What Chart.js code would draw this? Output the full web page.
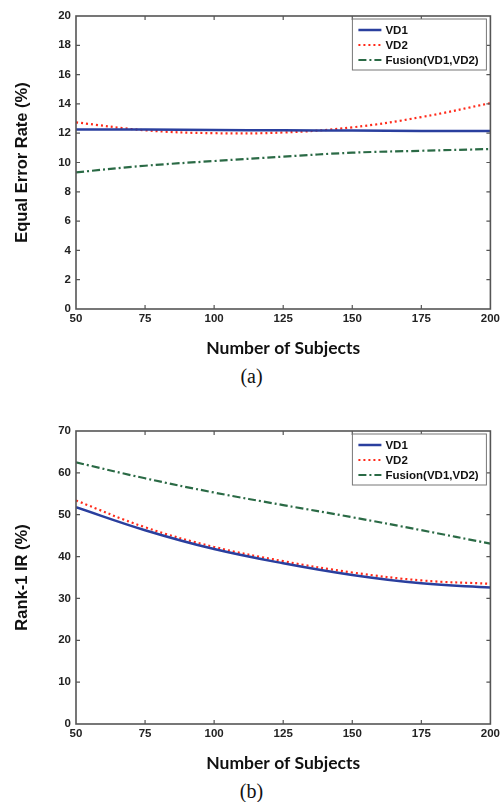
<!DOCTYPE html>
<html>
<head>
<meta charset="utf-8">
<script src="https://cdn.jsdelivr.net/npm/chart.js@4.4.1/dist/chart.umd.min.js"></script>
<style>
  body { margin: 0; background: #fff; width: 503px; height: 802px; position: relative; overflow: hidden; }
  canvas { position: absolute; left: 0; }
  .cap { position: absolute; left: 0; width: 503px; text-align: center; font: 20px "Liberation Serif", serif; color: #111; }
</style>
</head>
<body>
<canvas id="chartA" width="503" height="365" style="top:0"></canvas>
<div class="cap" style="top:365px">(a)</div>
<canvas id="chartB" width="503" height="375" style="top:400px"></canvas>
<div class="cap" style="top:780px">(b)</div>
<script>
// ── Données ────────────────────────────────────────────────
const subjects = [50, 75, 100, 125, 150, 175, 200];
const xTicks   = [50, 75, 100, 125, 150, 175, 200];

// (a) Equal Error Rate (%)
const eerVD1    = [12.25, 12.25, 12.22, 12.2, 12.18, 12.15, 12.15];
const eerVD2    = [12.74, 12.2, 12.0, 12.05, 12.4, 13.1, 14.05];
const eerFusion = [9.33, 9.78, 10.1, 10.4, 10.67, 10.8, 10.92];

// (b) Rank-1 IR (%)
const irVD1    = [51.8, 46.3, 41.8, 38.4, 35.6, 33.6, 32.6];
const irVD2    = [53.4, 47.0, 42.3, 38.9, 36.2, 34.3, 33.5];
const irFusion = [62.5, 58.7, 55.3, 52.3, 49.4, 46.3, 43.1];

const seriesNames = ['VD1', 'VD2', 'Fusion(VD1,VD2)'];

/* ── Styles ─────────────────────────────────────────────── */
const styles = [
  { color: '#2a3f9e', width: 2.5, dash: [] },
  { color: '#ff2a1a', width: 2.2, dash: [2, 3] },
  { color: '#2a6a45', width: 2.2, dash: [8, 3, 2, 3] }
];
const tickFont = { family: '"Liberation Sans", Arial, sans-serif', size: 11.5, weight: 'bold' };

const pts = (xs, ys) => xs.map((x, i) => ({ x, y: ys[i] }));

/* ── Cadre + graduations intérieures (style MATLAB) ─────── */
const cadrePlugin = {
  id: 'cadre',
  afterDraw(chart) {
    const { ctx, chartArea: a, scales } = chart;
    ctx.save();
    ctx.strokeStyle = '#555';
    ctx.lineWidth = 1.6;
    ctx.strokeRect(a.left, a.top, a.right - a.left, a.bottom - a.top);
    ctx.lineWidth = 1.2;
    ctx.beginPath();
    scales.x.ticks.forEach(t => {
      const px = scales.x.getPixelForValue(t.value);
      if (px <= a.left + 1 || px >= a.right - 1) return;
      ctx.moveTo(px, a.bottom); ctx.lineTo(px, a.bottom - 4);
      ctx.moveTo(px, a.top);    ctx.lineTo(px, a.top + 4);
    });
    scales.y.ticks.forEach(t => {
      const py = scales.y.getPixelForValue(t.value);
      if (py <= a.top + 1 || py >= a.bottom - 1) return;
      ctx.moveTo(a.left, py);  ctx.lineTo(a.left + 4, py);
      ctx.moveTo(a.right, py); ctx.lineTo(a.right - 4, py);
    });
    ctx.stroke();

    // Légende encadrée en haut à droite
    const bw = 134, bh = 51;
    const bx = a.right - 4 - bw, by = a.top + 3;
    ctx.fillStyle = '#fff';
    ctx.fillRect(bx, by, bw, bh);
    ctx.strokeStyle = '#777';
    ctx.lineWidth = 1;
    ctx.strokeRect(bx, by, bw, bh);
    ctx.font = 'bold 11.5px "Liberation Sans", Arial, sans-serif';
    ctx.textBaseline = 'middle';
    chart.data.datasets.forEach((ds, i) => {
      const y = by + 11 + i * 15;
      ctx.strokeStyle = ds.borderColor;
      ctx.lineWidth = ds.borderWidth;
      ctx.setLineDash(ds.borderDash);
      ctx.beginPath();
      ctx.moveTo(bx + 6, y); ctx.lineTo(bx + 29, y);
      ctx.stroke();
      ctx.setLineDash([]);
      ctx.fillStyle = '#111';
      ctx.fillText(ds.label, bx + 33, y + 0.5);
    });
    ctx.restore();
  }
};

function creerGraphique(id, series, yMax, yStep, yTitre, padTop, padBottom) {
  const ctx = document.getElementById(id);
  new Chart(ctx, {
    type: 'line',
    data: {
      datasets: series.map((ys, i) => ({
        label: seriesNames[i],
        data: pts(subjects, ys),
        borderColor: styles[i].color,
        borderWidth: styles[i].width,
        borderDash: styles[i].dash,
        pointRadius: 0,
        tension: 0.4,
        fill: false
      }))
    },
    options: {
      responsive: false,
      animation: false,
      layout: { padding: { left: 13, right: 12, top: padTop, bottom: padBottom } },
      plugins: { legend: { display: false }, tooltip: { enabled: false } },
      scales: {
        x: {
          type: 'linear', min: 50, max: 200,
          afterBuildTicks: s => { s.ticks = xTicks.map(v => ({ value: v })); },
          afterFit: s => { s.height = 50; },
          grid: { display: false, drawTicks: false },
          border: { display: false },
          ticks: { font: tickFont, color: '#222', padding: 3, maxRotation: 0, autoSkip: false },
          title: {
            display: true, text: 'Number of Subjects', color: '#111',
            font: { family: 'Lato, "Open Sans", sans-serif', size: 17.5, weight: 'bold' },
            padding: 0
          }
        },
        y: {
          min: 0, max: yMax,
          afterFit: s => { s.width = 63; },
          grid: { display: false, drawTicks: false },
          border: { display: false },
          ticks: { stepSize: yStep, font: tickFont, color: '#222', padding: 5 },
          title: {
            display: true, text: yTitre, color: '#111',
            font: { family: '"Liberation Sans", Arial, sans-serif', size: 16.5, weight: 'bold' },
            padding: 0
          }
        }
      }
    },
    plugins: [cadrePlugin]
  });
}

creerGraphique('chartA', [eerVD1, eerVD2, eerFusion], 20, 2, 'Equal Error Rate (%)', 16, 6);
creerGraphique('chartB', [irVD1, irVD2, irFusion], 70, 10, 'Rank-1 IR (%)', 31, 1);
</script>
</body>
</html>
